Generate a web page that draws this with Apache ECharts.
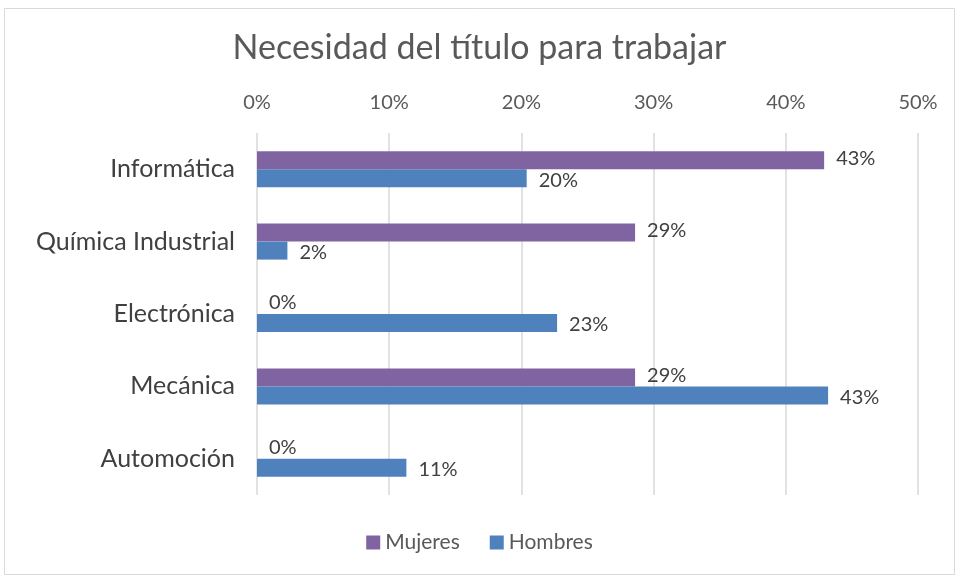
<!DOCTYPE html>
<html><head><meta charset="utf-8">
<script src="https://cdn.jsdelivr.net/npm/echarts@6/dist/echarts.min.js"></script>
<style>html,body{margin:0;padding:0;background:#fff}#c{width:959px;height:580px}</style>
</head><body><div id="c"></div>
<script>
const categories = ['Informática', 'Química Industrial', 'Electrónica', 'Mecánica', 'Automoción'];
const mujeres = [42.9, 28.6, 0, 28.6, 0];
const hombres = [20.4, 2.3, 22.7, 43.2, 11.3];
const tickValues = [0, 10, 20, 30, 40, 50];

const FONT = 'Lato';
const chart = echarts.init(document.getElementById('c'), null, {renderer: 'canvas'});
const lbl = {show: true, position: 'right', distance: 12, color: '#404040', fontSize: 20, fontFamily: FONT,
  formatter: p => Math.round(p.value) + '%'};
chart.setOption({
  animation: false,
  title: {text: 'Necesidad del título para trabajar', left: 'center', top: 26,
    textStyle: {fontFamily: FONT, fontSize: 34, fontWeight: 'normal', color: '#595959'}},
  graphic: [{type: 'rect', shape: {x: 4.5, y: 8.5, width: 950, height: 566},
    style: {fill: 'none', stroke: '#d9d9d9', lineWidth: 1}, silent: true}],
  legend: {bottom: 22, left: 'center', itemWidth: 14, itemHeight: 14, itemGap: 30, icon: 'rect',
    textStyle: {fontFamily: FONT, fontSize: 21, color: '#595959'}, data: ['Mujeres', 'Hombres']},
  grid: {left: 257, right: 41, top: 133, bottom: 85, containLabel: false},
  xAxis: {type: 'value', position: 'top', min: tickValues[0], max: tickValues[tickValues.length - 1], interval: 10,
    axisLine: {show: false}, axisTick: {show: false},
    splitLine: {lineStyle: {color: '#d9d9d9', width: 1.5}},
    axisLabel: {formatter: '{value}%', fontFamily: FONT, fontSize: 20, color: '#595959', margin: 20}},
  yAxis: {type: 'category', inverse: true, data: categories,
    axisLine: {show: false}, axisTick: {show: false},
    axisLabel: {fontFamily: FONT, fontSize: 25, color: '#404040', margin: 22}},
  series: [
    {name: 'Mujeres', type: 'bar', data: mujeres, barWidth: 18, barGap: '0%', itemStyle: {color: '#8064A2'},
      label: Object.assign({}, lbl, {offset: [0, -2]})},
    {name: 'Hombres', type: 'bar', data: hombres, barWidth: 18, barGap: '0%', itemStyle: {color: '#4F81BD'},
      label: Object.assign({}, lbl, {offset: [0, 2]})}
  ]
});
</script></body></html>
